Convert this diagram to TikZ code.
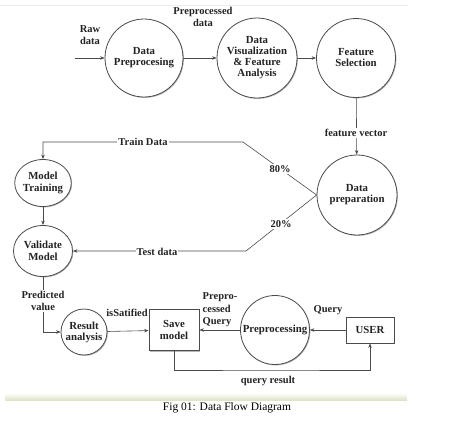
\documentclass[tikz,border=0pt]{standalone}
\usepackage{fontspec}
\usepackage{tikz}
\usetikzlibrary{shapes.geometric, arrows.meta, shadows}
\setmainfont{Liberation Serif}
\definecolor{dline}{RGB}{75, 75, 75}
\definecolor{dtext}{RGB}{35, 35, 35}
\definecolor{bandgreen}{RGB}{222, 228, 200}

\begin{document}
\begin{tikzpicture}[
    x=1pt, y=-1pt,
    process/.style={circle, draw=dline, thick, fill=white, inner sep=0pt, minimum size=#1, align=center,
        font=\fontsize{10.8}{11}\selectfont\bfseries, text=dtext,
        drop shadow={shadow xshift=0.9pt, shadow yshift=-0.9pt, fill=gray!70, opacity=0.8}},
    oval/.style={ellipse, draw=dline, thick, fill=white, inner sep=0pt, align=center,
        font=\fontsize{10.8}{11.5}\selectfont\bfseries, text=dtext,
        drop shadow={shadow xshift=0.9pt, shadow yshift=-0.9pt, fill=gray!70, opacity=0.8}},
    entity/.style={draw=dline, thick, fill=white, inner sep=0pt, align=center,
        font=\fontsize{10.8}{12}\selectfont\bfseries, text=dtext,
        drop shadow={shadow xshift=1.2pt, shadow yshift=-1.2pt, fill=gray!70, opacity=0.8}},
    flow/.style={draw=dline, semithick, -{Stealth[length=4.5pt, width=3.5pt]}},
    lbl/.style={font=\fontsize{10.5}{12.5}\selectfont\bfseries, text=dtext, align=center, inner sep=1pt},
    onlbl/.style={lbl, fill=white}
]
    \useasboundingbox (0,0) rectangle (452,421);

    % Frame of the figure
    \draw[gray!15] (0,5) -- (408,5);
    \shade[top color=white, bottom color=bandgreen] (5,393) rectangle (407,400);

    % Top row
    \node[process=78] (dprep) at (144,58) {Data\\Preprocesing};
    \node[process=80] (dvis) at (257,58) {Data\\Visualization\\\& Feature\\Analysis};
    \node[process=79] (fsel) at (356,58) {Feature\\Selection};
    \coordinate (raw) at (75,58);

    % Middle
    \node[process=80] (dpre) at (357,195) {Data\\preparation};
    \node[oval, minimum width=55, minimum height=47] (mtrain) at (43,183) {Model\\Training};
    \node[oval, minimum width=59, minimum height=51] (vmodel) at (43,251) {Validate\\Model};
    \coordinate (tbend) at (243,142);
    \coordinate (tcorner) at (43,142);
    \coordinate (sbend) at (246,251);

    % Bottom row
    \node[process=46] (result) at (84,332) {Result\\analysis};
    \node[entity, minimum width=50, minimum height=41] (save) at (174,330) {Save\\model};
    \node[process=69] (preproc) at (275,330) {Preprocessing};
    \node[entity, minimum width=48, minimum height=26] (user) at (370,330) {USER};
    \coordinate (qres) at (270,370);

    % Connectors
    \draw[flow] (raw) -- (dprep);
    \draw[flow] (dprep) -- (dvis);
    \draw[flow] (dvis) -- (fsel);
    \draw[flow] (fsel) -- (dpre);
    \draw[flow] (dpre.west) -- (tbend) -- (tcorner) -- (mtrain);
    \draw[flow] (dpre.west) -- (sbend) -- (vmodel);
    \draw[flow] (mtrain) -- (vmodel);
    \draw[flow] (vmodel.south) |- (result.west);
    \draw[flow] (result) -- (save);
    \draw[flow] (preproc) -- (save);
    \draw[flow] (user) -- (preproc);
    \draw[flow] (save.south) |- (qres) -| (user.south);

    % Labels
    \node[lbl] at (90,35) {Raw\\data};
    \node[lbl] at (203,17) {Preprocessed\\data};
    \node[onlbl] at (356,133) {feature vector};
    \node[onlbl] at (143,142) {Train Data};
    \node[onlbl] at (280,169) {80\%};
    \node[onlbl] at (281,224) {20\%};
    \node[onlbl] at (157,252) {Test data};
    \node[onlbl] at (43,301) {Predicted\\value};
    \node[lbl] at (127,313) {isSatified};
    \node[lbl, align=left] at (220,310) {Prepro-\\cessed\\Query};
    \node[lbl] at (328,310) {Query};
    \node[lbl] at (268,381) {query result};

    % Caption
    \node[font=\fontsize{11.5}{13}\selectfont] at (227,408) {Fig 01: Data Flow Diagram};
\end{tikzpicture}
\end{document}
